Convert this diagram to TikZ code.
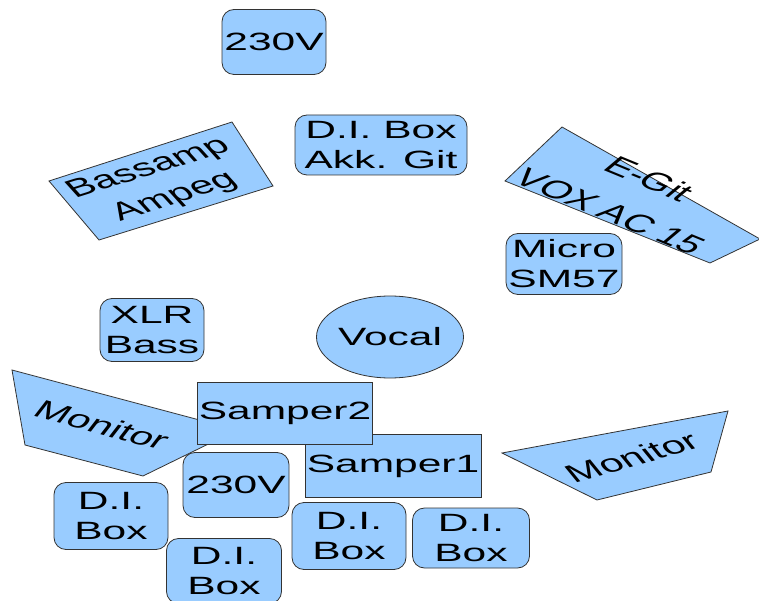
\documentclass[tikz,border=0pt]{standalone}
\usepackage{fontspec}
\setmainfont{Liberation Sans}[FakeStretch=1.7]
\newfontfamily\plainfont{Liberation Sans}
\usetikzlibrary{shapes.geometric}
\definecolor{boxblue}{HTML}{99CCFF}
\definecolor{edgegray}{HTML}{333333}
\newcommand{\stagesize}{\fontsize{25}{30}\selectfont}
\tikzset{
  rbox/.style={draw=edgegray, fill=boxblue, rounded corners=12pt, inner sep=0pt, align=center, font=\stagesize},
  sbox/.style={draw=edgegray, fill=boxblue, inner sep=0pt, font=\stagesize},
  panel/.style={draw=edgegray, fill=boxblue},
  rtxt/.style={inner sep=0pt, align=center, font=\plainfont\stagesize, xscale=1.7},
}
\begin{document}
\begin{tikzpicture}[x=1pt, y=-1pt, line width=0.8pt]
\useasboundingbox (0,0) rectangle (759,601);
\clip (0,0) rectangle (759,601);
% back line
\draw[panel] (49,181) -- (232,122) -- (273,186) -- (99,240) -- cycle;
\node (bass) [rtxt, rotate=28] at (162,183) {Bassamp\\[2pt]Ampeg};
\node (power) [rbox, minimum width=104, minimum height=65] at (274,42) {230V};
\node (diakk) [rbox, minimum width=172, minimum height=60] at (381,145) {D.I. Box\\Akk. Git};
\draw[panel] (562,127) -- (760,239) -- (710,263) -- (505,181) -- cycle;
\node (egit) [rtxt, rotate=-35] at (630,195) {E-Git\\[10pt]VOX AC 15};
\node (micro) [rbox, minimum width=116, minimum height=61] at (564,264) {Micro\\SM57};
% middle
\node (xlr) [rbox, minimum width=104, minimum height=63] at (152,330) {XLR\\Bass};
\node (vocal) [ellipse, draw=edgegray, fill=boxblue, inner sep=0pt, minimum width=137, minimum height=82, font=\stagesize] at (390,337) {Vocal};
% front line
\draw[panel] (12,370) -- (237,430) -- (143,476) -- (25,445) -- cycle;
\node (monl) [rtxt, rotate=-24.5] at (102,425) {Monitor};
\draw[panel] (502,453) -- (728,411) -- (711,472) -- (597,500) -- cycle;
\node (monr) [rtxt, rotate=25.7] at (632,457) {Monitor};
\node (samp1) [sbox, minimum width=176, minimum height=63] at (393,466) {Samper1};
\node (samp2) [sbox, minimum width=175, minimum height=62] at (285,413) {Samper2};
\node (power2) [rbox, minimum width=106, minimum height=65] at (236,485) {230V};
\node (dia) [rbox, minimum width=114, minimum height=67] at (111,516) {D.I.\\Box};
\node (dib) [rbox, minimum width=115, minimum height=65] at (224,571) {D.I.\\Box};
\node (dic) [rbox, minimum width=114, minimum height=67] at (349,536) {D.I.\\Box};
\node (did) [rbox, minimum width=117, minimum height=60] at (471,538) {D.I.\\Box};
\end{tikzpicture}
\end{document}
